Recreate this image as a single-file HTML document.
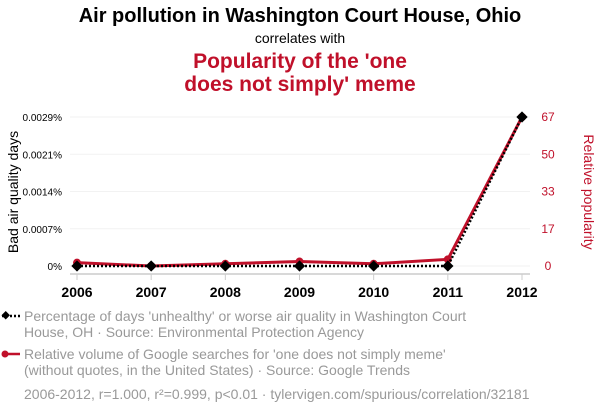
<!DOCTYPE html>
<html><head><meta charset="utf-8"><style>
body{margin:0;background:#fff;font-family:"Liberation Sans",sans-serif}
</style></head><body>
<svg id="c" width="600" height="414" xmlns="http://www.w3.org/2000/svg" font-family="Liberation Sans, sans-serif">
<text x="300" y="22" text-anchor="middle" font-size="20" font-weight="bold" fill="#000">Air pollution in Washington Court House, Ohio</text>
<text x="300" y="43" text-anchor="middle" font-size="14" fill="#000">correlates with</text>
<text x="300" y="68" text-anchor="middle" font-size="21" font-weight="bold" fill="#c0102a">Popularity of the 'one</text>
<text x="300" y="91" text-anchor="middle" font-size="21" font-weight="bold" fill="#c0102a">does not simply' meme</text>
<g id="grid"></g>
<line x1="70" y1="274" x2="530" y2="274" stroke="#ccc" stroke-width="1.5"/>
<g id="xt"></g><g id="yl"></g><g id="yr"></g>
<text transform="translate(18,192) rotate(-90)" text-anchor="middle" font-size="14" fill="#000">Bad air quality days</text>
<text transform="translate(584,192) rotate(90)" text-anchor="middle" font-size="14" fill="#c0102a">Relative popularity</text>
<g id="series"></g>
<g>
<line x1="2" y1="316" x2="20" y2="316" stroke="#000" stroke-width="2.5" stroke-dasharray="2,2"/>
<rect x="2" y="312" width="6" height="6" transform="rotate(45 5 316)" fill="#000"/>
<text x="24" y="321" font-size="14" fill="#999">Percentage of days 'unhealthy' or worse air quality in Washington Court</text>
<text x="24" y="337" font-size="14" fill="#999">House, OH · Source: Environmental Protection Agency</text>
</g>
<g>
<line x1="2" y1="354" x2="20" y2="354" stroke="#c0102a" stroke-width="2.5"/>
<circle cx="5" cy="354" r="3.5" fill="#c0102a"/>
<text x="24" y="359" font-size="14" fill="#999">Relative volume of Google searches for 'one does not simply meme'</text>
<text x="24" y="375" font-size="14" fill="#999">(without quotes, in the United States) · Source: Google Trends</text>
</g>
<text x="24" y="399" font-size="14" fill="#999">2006-2012, r=1.000, r²=0.999, p&lt;0.01 · tylervigen.com/spurious/correlation/32181</text>
</svg>
<script>
const years=[2006,2007,2008,2009,2010,2011,2012];
const pollution=[0,0,0,0,0,0,0.0029];
const meme=[1.5,0,1,2,1,3,67];
const leftTicks=[0,0.000725,0.00145,0.002175,0.0029];
const leftLabels=["0%","0.0007%","0.0014%","0.0021%","0.0029%"];
const rightTicks=[0,16.75,33.5,50.25,67];
const rightLabels=["0","17","33","50","67"];
const NS="http://www.w3.org/2000/svg";
const x=y=>77+(y-2006)*(522-77)/6;
const yL=v=>266-v/0.0029*149;
const yR=v=>266-v/67*149;
function mk(t,a,p){const e=document.createElementNS(NS,t);for(const k in a)e.setAttribute(k,a[k]);document.getElementById(p).appendChild(e);return e;}
leftTicks.forEach((v,i)=>{
 const g=mk('line',{x1:70,x2:530,y1:yL(v),y2:yL(v),stroke:'#f2f2f2'},'grid');
 
 
 const t=mk('text',{x:62,y:yL(v)+4,'text-anchor':'end','font-size':10,fill:'#000'},'yl');t.textContent=leftLabels[i];
 
 
});
rightTicks.forEach((v,i)=>{
 const t=mk('text',{x:548,y:yR(v)+4,'text-anchor':'middle','font-size':12,fill:'#c0102a'},'yr');t.textContent=rightLabels[i];
 
 
});
years.forEach(yr=>{
 const l=mk('line',{x1:x(yr),x2:x(yr),y1:274,y2:280,stroke:'#ccc'},'xt');
 
 
 const t=mk('text',{x:x(yr),y:297,'text-anchor':'middle','font-size':14,'font-weight':'bold',fill:'#000'},'xt');t.textContent=yr;
 
 
});
const rl=mk('polyline',{points:years.map((y,i)=>x(y)+','+yR(meme[i])).join(' '),fill:'none',stroke:'#c0102a','stroke-width':3},'series');


years.forEach((y,i)=>{const c=mk('circle',{cx:x(y),cy:yR(meme[i]),r:4,fill:'#c0102a'},'series');
 
 });
const bl=mk('polyline',{points:years.map((y,i)=>x(y)+','+yL(pollution[i])).join(' '),fill:'none',stroke:'#000','stroke-width':2.5,'stroke-dasharray':'2,2'},'series');


years.forEach((y,i)=>{const cx=x(y),cy=yL(pollution[i]);const d=mk('rect',{x:cx-4,y:cy-4,width:8,height:8,fill:'#000',transform:`rotate(45 ${cx} ${cy})`},'series');
 
 });
</script>
</body></html>
